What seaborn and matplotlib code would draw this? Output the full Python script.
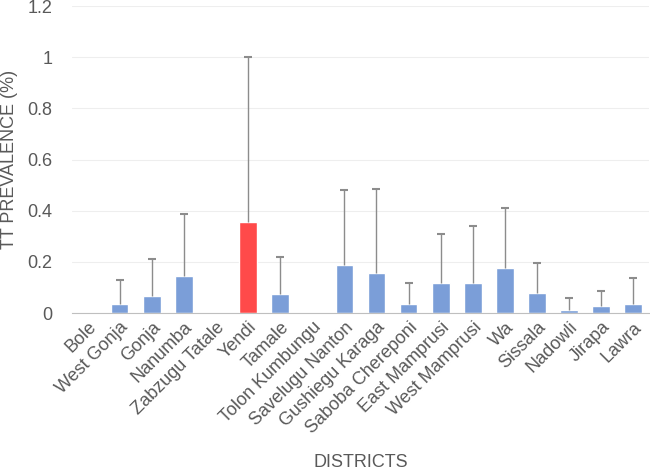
import pandas as pd
import matplotlib
matplotlib.use("Agg")
import matplotlib.pyplot as plt
import seaborn as sns

districts = ["Bole", "West Gonja", "Gonja", "Nanumba", "Zabzugu Tatale", "Yendi",
             "Tamale", "Tolon Kumbungu", "Savelugu Nanton", "Gushiegu Karaga",
             "Saboba Chereponi", "East Mamprusi", "West Mamprusi", "Wa", "Sissala",
             "Nadowli", "Jirapa", "Lawra"]
prevalence = [0, 0.036, 0.068, 0.146, 0, 0.358, 0.075, 0, 0.188, 0.157,
              0.036, 0.116, 0.116, 0.176, 0.077, 0.014, 0.027, 0.036]
upper_ci = [0, 0.128, 0.21, 0.388, 0, 1.0, 0.219, 0, 0.48, 0.487,
            0.118, 0.309, 0.34, 0.409, 0.197, 0.059, 0.087, 0.138]
highlight = "Yendi"

sns.set_style("white")
plt.rcParams['font.family'] = ['Liberation Sans', 'DejaVu Sans']

data = pd.DataFrame({"district": districts, "prev": prevalence, "upper": upper_ci})
data["group"] = ["hi" if d == highlight else "lo" for d in districts]

fig = plt.figure(figsize=(6.5, 4.73), dpi=100)
ax = fig.add_axes([0.11, 0.338, 0.889, 0.649])

sns.barplot(data=data, x="district", y="prev", hue="group",
            palette={"hi": "#FF4A4A", "lo": "#7B9ED8"}, dodge=False,
            saturation=1, width=0.55, legend=False, ax=ax)

# upper-only error bars (drop the lower cap)
err_up = data["upper"] - data["prev"]
mask = data["upper"] > 0
eb = ax.errorbar(data.index[mask], data["prev"][mask],
                 yerr=[[0] * mask.sum(), err_up[mask]],
                 fmt="none", ecolor="#8C8C8C", elinewidth=1, capsize=3, capthick=1.5)
eb[1][0].remove()

ax.set_ylim(0, 1.2)
ax.set_yticks([0, 0.2, 0.4, 0.6, 0.8, 1, 1.2])
ax.set_yticklabels(["0", "0.2", "0.4", "0.6", "0.8", "1", "1.2"])
ax.set_xlim(-0.5, len(districts) - 0.5)
ax.yaxis.grid(True, color="#EEEEEE", linewidth=0.8)
ax.set_axisbelow(True)
for s in ["top", "right", "left"]:
    ax.spines[s].set_visible(False)
ax.spines["bottom"].set_color("#BFBFBF")
ax.tick_params(axis="both", length=0, colors="#595959", labelsize=13)
ax.tick_params(axis="y", pad=13.5)
ax.tick_params(axis="x", pad=4)
plt.setp(ax.get_xticklabels(), rotation=45, ha="right", rotation_mode="anchor")

ax.set_xlabel("DISTRICTS", color="#595959", fontsize=13)
ax.xaxis.set_label_coords(0.5, -0.46)
ax.set_ylabel("TT PREVALENCE (%)", color="#595959", fontsize=13)
ax.yaxis.set_label_coords(-0.093, 0.5)

fig.savefig("out.png", dpi=100)
